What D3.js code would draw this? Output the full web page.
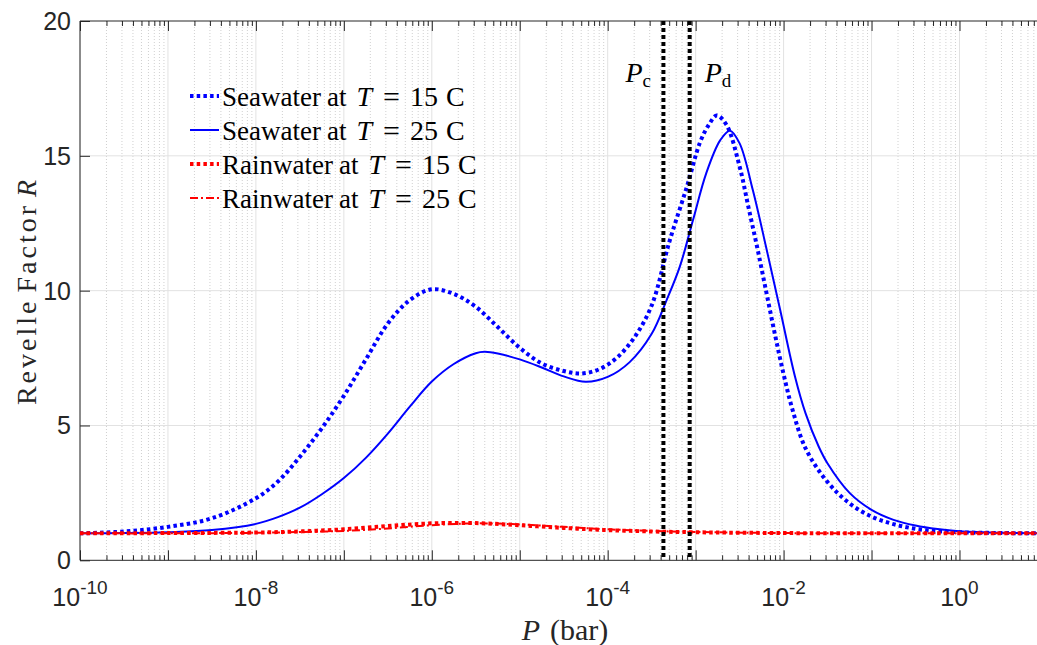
<!DOCTYPE html>
<html>
<head>
<meta charset="utf-8">
<script src="https://cdn.jsdelivr.net/npm/d3@7"></script>
<style>
  html, body { margin: 0; padding: 0; background: #fff; }
  svg { display: block; }
</style>
</head>
<body>
<svg id="chart" width="1037" height="645"></svg>
<script>
// ---------- DATA ----------
// log10(P / bar) sample positions and Revelle factor values
const seaT15_logP = [-10, -9.5, -9, -8.5, -8, -7.75, -7.5, -7.25, -7, -6.75, -6.5, -6.25, -6, -5.75, -5.5, -5.25, -5, -4.75, -4.5, -4.3, -4.1, -3.9, -3.7, -3.5, -3.3, -3.1, -2.95, -2.85, -2.76, -2.65, -2.5, -2.4, -2.3, -2.2, -2.1, -2.0, -1.9, -1.75, -1.5, -1.25, -1.0, -0.75, -0.5, -0.25, 0, 0.5, 1];
const seaT15_R    = [1.0, 1.07, 1.24, 1.56, 2.30, 2.92, 3.84, 4.9, 6.1, 7.45, 8.78, 9.65, 10.05, 9.88, 9.40, 8.65, 7.88, 7.3, 7.02, 6.93, 7.08, 7.5, 8.25, 9.45, 11.8, 13.85, 15.5, 16.15, 16.5, 16.15, 14.6, 13.1, 11.6, 10.0, 8.4, 6.9, 5.6, 4.15, 2.9, 2.11, 1.62, 1.34, 1.17, 1.08, 1.04, 1.01, 1.0];

const seaT25_logP = [-10, -9.5, -9, -8.5, -8, -7.75, -7.5, -7.25, -7, -6.75, -6.5, -6.25, -6, -5.75, -5.5, -5.4, -5.25, -5, -4.75, -4.5, -4.25, -4, -3.75, -3.5, -3.33, -3.18, -3.03, -2.88, -2.72, -2.61, -2.5, -2.35, -2.2, -2.04, -1.87, -1.75, -1.6, -1.5, -1.25, -1.0, -0.75, -0.5, -0.25, 0, 0.5, 1];
const seaT25_R    = [1.0, 1.01, 1.04, 1.12, 1.35, 1.6, 1.95, 2.45, 3.05, 3.8, 4.7, 5.7, 6.63, 7.28, 7.68, 7.73, 7.67, 7.45, 7.15, 6.82, 6.62, 6.8, 7.35, 8.4, 9.65, 10.89, 12.62, 14.35, 15.58, 15.93, 15.46, 13.73, 11.63, 9.3, 6.81, 5.45, 4.21, 3.59, 2.50, 1.87, 1.50, 1.29, 1.16, 1.08, 1.02, 1.0];

const rainT15_logP = [-10, -9, -8, -7.5, -7, -6.5, -6, -5.5, -5, -4.5, -4, -3.5, -3, -2, -1, 0, 1];
const rainT15_R    = [1.0, 1.01, 1.03, 1.07, 1.15, 1.27, 1.37, 1.38, 1.30, 1.20, 1.12, 1.07, 1.04, 1.01, 1.0, 1.0, 1.0];

const rainT25_logP = [-10, -9, -8, -7.5, -7, -6.5, -6, -5.5, -5, -4.5, -4, -3.5, -3, -2, -1, 0, 1];
const rainT25_R    = [1.0, 1.0, 1.02, 1.05, 1.09, 1.18, 1.30, 1.37, 1.33, 1.24, 1.15, 1.09, 1.05, 1.01, 1.0, 1.0, 1.0];

const markerNames = ["c", "d"];
const markerP     = [4.3e-4, 8.55e-4];

const yTicks = [0, 5, 10, 15, 20];
const xTickExponents = [-10, -8, -6, -4, -2, 0];

const legendWater = ["Seawater", "Seawater", "Rainwater", "Rainwater"];
const legendTemp  = ["15", "25", "15", "25"];

(function () {
// ---------- LAYOUT ----------
const svg = d3.select("#chart");
const pL = 80, pT = 21, pB = 560.3;
const perDecade = 87.95;
const pR = pL + 11 * perDecade;

const x = d3.scaleLog().domain([1e-10, 10]).range([pL, pR]);
const y = d3.scaleLinear().domain([0, 20]).range([pB, pT]);

const axisColor = "#262626";
const sans = "'Liberation Sans', Arial, sans-serif";
const serif = "'Liberation Serif', 'Times New Roman', serif";

svg.append("defs").append("clipPath").attr("id", "plotclip")
  .append("rect").attr("x", pL).attr("y", pT).attr("width", pR - pL).attr("height", pB - pT);

// ---------- GRID ----------
const grid = svg.append("g");
const minorVals = [];
const majorVals = [];
for (let e = -10; e <= 1; e++) {
  majorVals.push(Math.pow(10, e));
  if (e < 1) for (let k = 2; k <= 9; k++) minorVals.push(k * Math.pow(10, e));
}
grid.selectAll(".minor").data(minorVals).join("line")
  .attr("x1", d => x(d)).attr("x2", d => x(d))
  .attr("y1", pT).attr("y2", pB)
  .attr("stroke", "#c4c4c4").attr("stroke-width", 0.8)
  .attr("stroke-dasharray", "1,2");
grid.selectAll(".major").data(majorVals).join("line")
  .attr("x1", d => x(d)).attr("x2", d => x(d))
  .attr("y1", pT).attr("y2", pB)
  .attr("stroke", "#e2e2e2").attr("stroke-width", 1);
grid.selectAll(".hmajor").data(yTicks.slice(1, -1)).join("line")
  .attr("x1", pL).attr("x2", pR)
  .attr("y1", d => y(d)).attr("y2", d => y(d))
  .attr("stroke", "#e2e2e2").attr("stroke-width", 1);

// ---------- AXES ----------
const ax = svg.append("g");
const xb = d3.axisTop(x).tickValues(majorVals).tickSize(10).tickFormat("");
const xbMinor = d3.axisTop(x).tickValues(minorVals).tickSize(5).tickFormat("");
const xt = d3.axisBottom(x).tickValues(majorVals).tickSize(10).tickFormat("");
const xtMinor = d3.axisBottom(x).tickValues(minorVals).tickSize(5).tickFormat("");
[[xb, pB], [xbMinor, pB], [xt, pT], [xtMinor, pT]].forEach(([a, yy]) => {
  const g = ax.append("g").attr("transform", `translate(0,${yy})`).call(a);
  g.select(".domain").remove();
  g.selectAll("line").attr("stroke", axisColor).attr("stroke-width", 1);
});
const ya = d3.axisRight(y).tickValues(yTicks).tickSize(10).tickFormat("");
const yg = ax.append("g").attr("transform", `translate(${pL},0)`).call(ya);
yg.select(".domain").remove();
yg.selectAll("line").attr("stroke", axisColor);

ax.append("line").attr("x1", pL).attr("x2", pR).attr("y1", pB).attr("y2", pB).attr("stroke", axisColor);
ax.append("line").attr("x1", pL).attr("x2", pR).attr("y1", pT).attr("y2", pT).attr("stroke", axisColor);
ax.append("line").attr("x1", pL).attr("x2", pL).attr("y1", pT).attr("y2", pB).attr("stroke", axisColor);

// y tick labels
svg.append("g").selectAll("text").data(yTicks).join("text")
  .attr("x", pL - 9).attr("y", d => y(d)).attr("dy", "0.36em")
  .attr("text-anchor", "end").attr("font-family", sans).attr("font-size", 25)
  .attr("fill", axisColor).text(d => d);

// x tick labels 10^e
const xl = svg.append("g").selectAll("text").data(xTickExponents).join("text")
  .attr("x", d => x(Math.pow(10, d))).attr("y", 606)
  .attr("text-anchor", "middle").attr("font-family", sans).attr("fill", axisColor);
xl.append("tspan").attr("font-size", 25).text("10");
xl.append("tspan").attr("font-size", 19).attr("dy", -12).text(d => d);

// axis labels
const xlab = svg.append("text").attr("x", 565).attr("y", 640).attr("text-anchor", "middle")
  .attr("font-family", serif).attr("font-size", 30).attr("fill", axisColor);
xlab.append("tspan").attr("font-style", "italic").text("P");
xlab.append("tspan").attr("dx", 10).text("(bar)");

const ylab = svg.append("text").attr("transform", `translate(36,291) rotate(-90)`)
  .attr("text-anchor", "middle").attr("font-family", serif).attr("font-size", 28)
  .attr("letter-spacing", 3).attr("fill", axisColor);
ylab.append("tspan").text("Revelle");
ylab.append("tspan").attr("dx", 6).text("Factor");
ylab.append("tspan").attr("dx", 6).attr("font-style", "italic").text("R");

// ---------- CURVES ----------
const series = [
  { lp: seaT15_logP, r: seaT15_R, color: "#0000ff", width: 4, dash: "3.5,3.2" },
  { lp: seaT25_logP, r: seaT25_R, color: "#0000ff", width: 2, dash: null },
  { lp: rainT15_logP, r: rainT15_R, color: "#ff0000", width: 4, dash: "3.5,3.2" },
  { lp: rainT25_logP, r: rainT25_R, color: "#ff0000", width: 2, dash: "8,3,2,3" }
];
const line = d3.line().x(d => x(Math.pow(10, d[0]))).y(d => y(d[1])).curve(d3.curveCatmullRom.alpha(0.5));
const plot = svg.append("g").attr("clip-path", "url(#plotclip)");
series.forEach(s => {
  const pts = s.lp.map((v, i) => [v, s.r[i]]);
  plot.append("path").attr("d", line(pts)).attr("fill", "none")
    .attr("stroke", s.color).attr("stroke-width", s.width)
    .attr("stroke-dasharray", s.dash);
});

plot.selectAll(".vline").data(markerP).join("line")
  .attr("x1", d => x(d)).attr("x2", d => x(d)).attr("y1", pT).attr("y2", pB)
  .attr("stroke", "#000").attr("stroke-width", 4).attr("stroke-dasharray", "4,3");

const mlab = svg.append("g").selectAll("text").data(markerNames).join("text")
  .attr("x", (d, i) => x(markerP[i]) - (i === 0 ? 38 : -15)).attr("y", 82)
  .attr("font-family", serif).attr("font-size", 28).attr("fill", "#000");
mlab.append("tspan").attr("font-style", "italic").text("P");
mlab.append("tspan").attr("font-size", 19).attr("dy", 5).text(d => d);

// ---------- LEGEND ----------
const legY0 = 96, legStep = 34;
const leg = svg.append("g");
series.forEach((s, i) => {
  const yy = legY0 + i * legStep;
  leg.append("line").attr("x1", 190).attr("x2", 219).attr("y1", yy).attr("y2", yy)
    .attr("stroke", s.color).attr("stroke-width", s.width)
    .attr("stroke-dasharray", s.dash);
  const t = leg.append("text").attr("x", 222).attr("y", yy + 10)
    .attr("font-family", serif).attr("font-size", 27).attr("fill", "#000");
  t.append("tspan").text(legendWater[i]);
  t.append("tspan").attr("dx", 6).text("at");
  t.append("tspan").attr("dx", 10).attr("font-size", 28).attr("font-style", "italic").text("T");
  t.append("tspan").attr("dx", 11).attr("font-size", 30).attr("dy", 1).text("=");
  t.append("tspan").attr("dx", 10).attr("font-size", 28).attr("dy", -1).text(legendTemp[i]);
  t.append("tspan").attr("dx", 8).attr("font-size", 28).text("C");
});
})();
</script>
</body>
</html>
